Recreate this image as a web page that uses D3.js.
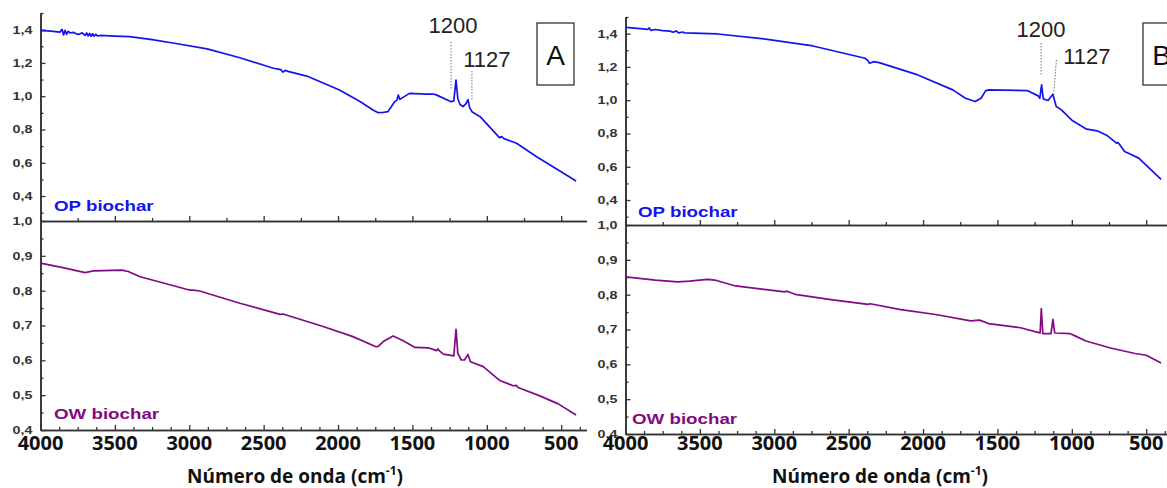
<!DOCTYPE html>
<html>
<head>
<meta charset="utf-8">
<script src="https://cdn.jsdelivr.net/npm/d3@7"></script>
<style>
  body { margin: 0; background: #fff; }
  svg { display: block; }
</style>
</head>
<body>
<div id="chart"></div>
<script>
// FTIR spectra of OP / OW biochar, panels A and B
// points are [wavenumber (cm-1), value]

const opA = [
  [4000,1.394],[3950,1.392],[3900,1.388],[3870,1.385],[3855,1.402],[3845,1.368],[3835,1.396],[3825,1.372],
  [3815,1.390],[3800,1.380],[3780,1.384],[3760,1.375],[3740,1.372],[3720,1.381],[3700,1.365],[3690,1.380],
  [3680,1.362],[3670,1.378],[3660,1.360],[3650,1.375],[3640,1.360],[3630,1.372],[3615,1.362],[3600,1.365],
  [3500,1.361],[3400,1.358],[3250,1.340],[3100,1.318],[2880,1.284],[2660,1.231],[2435,1.168],[2385,1.160],
  [2370,1.145],[2355,1.155],[2330,1.148],[2210,1.121],[1990,1.037],[1850,0.967],[1765,0.917],[1730,0.901],
  [1700,0.902],[1665,0.907],[1620,0.967],[1605,0.975],[1595,1.007],[1585,0.981],[1520,1.017],[1400,1.012],
  [1360,1.013],[1340,1.008],[1240,0.967],[1222,0.972],[1207,1.097],[1195,0.985],[1180,0.950],[1160,0.937],
  [1140,0.955],[1127,0.980],[1115,0.930],[1100,0.907],[1045,0.877],[915,0.751],[900,0.757],[885,0.745],
  [800,0.717],[665,0.636],[520,0.556],[400,0.490]
];

const owA = [
  [4000,0.879],[3850,0.866],[3700,0.852],[3645,0.857],[3454,0.859],[3410,0.855],[3330,0.840],[3000,0.802],
  [2960,0.801],[2930,0.799],[2660,0.764],[2390,0.732],[2370,0.733],[2100,0.697],[1900,0.668],[1745,0.639],
  [1730,0.640],[1696,0.654],[1630,0.670],[1562,0.656],[1483,0.637],[1394,0.636],[1337,0.628],[1330,0.633],
  [1320,0.628],[1293,0.618],[1222,0.613],[1207,0.689],[1195,0.620],[1172,0.601],[1150,0.601],[1127,0.617],
  [1110,0.596],[1024,0.582],[912,0.542],[823,0.527],[800,0.528],[790,0.522],[644,0.498],[520,0.475],[400,0.443]
];

const opB = [
  [4000,1.438],[3900,1.430],[3850,1.426],[3840,1.434],[3830,1.420],[3800,1.425],[3750,1.418],[3700,1.415],
  [3680,1.408],[3660,1.416],[3640,1.404],[3620,1.410],[3600,1.405],[3380,1.398],[3100,1.372],[2740,1.326],
  [2390,1.252],[2370,1.238],[2360,1.222],[2330,1.232],[2295,1.226],[2035,1.152],[1800,1.062],[1715,1.012],
  [1650,0.992],[1610,1.012],[1580,1.056],[1560,1.062],[1300,1.058],[1226,1.026],[1215,1.012],[1203,1.092],
  [1192,1.008],[1160,0.998],[1127,1.036],[1105,0.962],[1070,0.942],[1000,0.880],[900,0.826],[830,0.816],
  [760,0.786],[700,0.742],[690,0.745],[680,0.735],[645,0.692],[550,0.652],[400,0.524]
];

const owB = [
  [4000,0.851],[3800,0.842],[3650,0.837],[3570,0.839],[3450,0.844],[3400,0.842],[3260,0.825],[2930,0.808],
  [2915,0.810],[2860,0.801],[2620,0.786],[2370,0.772],[2355,0.774],[2150,0.757],[1915,0.743],[1680,0.725],
  [1620,0.727],[1560,0.717],[1375,0.707],[1345,0.705],[1222,0.691],[1213,0.690],[1205,0.760],[1195,0.688],
  [1140,0.688],[1127,0.729],[1115,0.690],[1010,0.688],[975,0.681],[905,0.667],[740,0.647],[575,0.631],
  [500,0.626],[400,0.604]
];

const xTicks = [4000, 3500, 3000, 2500, 2000, 1500, 1000, 500];
const upperTicks = [0.4, 0.6, 0.8, 1.0, 1.2, 1.4];
const lowerTicks = [0.4, 0.5, 0.6, 0.7, 0.8, 0.9, 1.0];
const peaks = [1200, 1127];
const peakLabels = ["1200", "1127"];
const seriesNames = ["OP biochar", "OW biochar"];
const panelLetters = ["A", "B"];

const width = 1167, height = 488;
const blue = "#1414ec", purple = "#820a82", axisColor = "#333";
const fmt = d => d.toFixed(1).replace(".", ",");

const svg = d3.select("#chart").append("svg")
  .attr("width", width)
  .attr("height", height);

// panel layout (pixels); B sits a little lower than A
const panels = [
  { letter: panelLetters[0], op: opA, ow: owA, dx: 0, dy: 0,
    opLab: [54, 210.5], owLab: [54, 419],
    ann: { t1: [-4, 33], t2: [19, 67], l1: [-6, 42, -6, 90], l2: [4, 71, 4, 100] },
    box: [537, 23, 37, 62] },
  { letter: panelLetters[1], op: opB, ow: owB, dx: 585, dy: 4,
    opLab: [53, 213], owLab: [47, 420],
    ann: { t1: [-1, 32.5], t2: [34, 59.5], l1: [-1, 39, -1, 72], l2: [3.5, 56, 1, 87.5] },
    box: [558, 19, 37, 62] }
];

const x = d3.scaleLinear().domain([4000, 330]).range([40.5, 586.5]);
const yTop = d3.scaleLinear().domain([0.25, 1.5]).range([221, 13]);
const yBot = d3.scaleLinear().domain([0.4, 1.0]).range([430, 221]);

panels.forEach(drawPanel);

function styleAxis(g) {
  g.select(".domain").attr("stroke", axisColor).attr("stroke-width", 1.6);
  g.selectAll(".tick line").attr("stroke", axisColor).attr("stroke-width", 1.3);
  g.selectAll("text").remove();
}

function drawPanel(p) {
  const g = svg.append("g").attr("transform", `translate(${p.dx},${p.dy})`);

  // y axes: major + minor ticks, pointing inward
  g.append("g").attr("transform", `translate(${x(4000)},0)`)
    .call(d3.axisLeft(yTop).tickValues(d3.range(0.3, 1.51, 0.2)).tickSize(-3).tickSizeOuter(0))
    .call(styleAxis);
  g.append("g").attr("transform", `translate(${x(4000)},0)`)
    .call(d3.axisLeft(yTop).tickValues(upperTicks).tickSize(-5).tickSizeOuter(0))
    .call(styleAxis);
  g.append("g").attr("transform", `translate(${x(4000)},0)`)
    .call(d3.axisLeft(yBot).tickValues(d3.range(0.45, 1.0, 0.1)).tickSize(-3).tickSizeOuter(0))
    .call(styleAxis);
  g.append("g").attr("transform", `translate(${x(4000)},0)`)
    .call(d3.axisLeft(yBot).tickValues(lowerTicks).tickSize(-5).tickSizeOuter(0))
    .call(styleAxis);

  // y tick labels (stretched Origin-style text)
  const yLab = (scale, vals) => vals.forEach(v => {
    g.append("text")
      .attr("transform", `translate(${x(4000) - 8},${scale(v)}) scale(1.3,1)`)
      .attr("dy", "0.36em")
      .attr("text-anchor", "end")
      .style("font-family", "'Liberation Sans', Arial, sans-serif")
      .style("font-weight", "bold")
      .style("font-size", "11px")
      .style("fill", "#333")
      .text(fmt(v));
  });
  yLab(yTop, upperTicks);
  yLab(yBot, lowerTicks);

  // divider axis (bottom of upper panel)
  const minor250 = d3.range(3750, 300, -500);
  const minor125 = d3.range(3875, 300, -125).filter(d => d % 500 !== 0);
  g.append("g").attr("transform", `translate(0,${yTop(0.25)})`)
    .call(d3.axisBottom(x).tickValues(minor250).tickSize(-3).tickSizeOuter(0))
    .call(styleAxis);
  g.append("g").attr("transform", `translate(0,${yTop(0.25)})`)
    .call(d3.axisBottom(x).tickValues(xTicks).tickSize(-5).tickSizeOuter(0))
    .call(styleAxis);

  // bottom axis
  g.append("g").attr("transform", `translate(0,${yBot(0.4)})`)
    .call(d3.axisBottom(x).tickValues(minor125).tickSize(-3).tickSizeOuter(0))
    .call(styleAxis);
  g.append("g").attr("transform", `translate(0,${yBot(0.4)})`)
    .call(d3.axisBottom(x).tickValues(xTicks).tickSize(-5).tickSizeOuter(0))
    .call(styleAxis);

  xTicks.forEach(t => {
    g.append("text")
      .attr("x", x(t))
      .attr("y", 450 - p.dy)
      .attr("text-anchor", "middle")
      .style("font-family", "'Open Sans', sans-serif")
      .style("font-weight", "bold")
      .style("font-size", "20px")
      .style("fill", "#111")
      .text(t);
  });

  const title = g.append("text")
    .attr("x", 295)
    .attr("y", 483 - p.dy)
    .attr("text-anchor", "middle")
    .style("font-family", "'Open Sans', sans-serif")
    .style("font-weight", "bold")
    .style("font-size", "19px")
    .style("fill", "#111");
  title.append("tspan").text("Número de onda (cm");
  title.append("tspan").attr("dy", -8).style("font-size", "12px").text("-1");
  title.append("tspan").attr("dy", 8).text(")");

  // spectra
  const lineTop = d3.line().x(d => x(d[0])).y(d => yTop(d[1]));
  const lineBot = d3.line().x(d => x(d[0])).y(d => yBot(d[1]));
  g.append("path").datum(p.op).attr("d", lineTop)
    .attr("fill", "none").attr("stroke", blue).attr("stroke-width", 1.7).attr("stroke-linejoin", "round");
  g.append("path").datum(p.ow).attr("d", lineBot)
    .attr("fill", "none").attr("stroke", purple).attr("stroke-width", 1.7).attr("stroke-linejoin", "round");

  // series names
  [[seriesNames[0], p.opLab, blue], [seriesNames[1], p.owLab, purple]].forEach(([name, pos, col]) => {
    g.append("text")
      .attr("transform", `translate(${pos[0]},${pos[1]}) scale(1.25,1)`)
      .style("font-family", "'Liberation Sans', Arial, sans-serif")
      .style("font-weight", "bold")
      .style("font-size", "15px")
      .style("fill", col)
      .text(name);
  });

  // peak annotations
  const a = p.ann;
  [a.l1, a.l2].forEach((l, i) => {
    g.append("line")
      .attr("x1", x(peaks[i]) + l[0]).attr("y1", l[1])
      .attr("x2", x(peaks[i]) + l[2]).attr("y2", l[3])
      .attr("stroke", "#777").attr("stroke-width", 1)
      .attr("stroke-dasharray", "1.5,1.5");
  });
  [a.t1, a.t2].forEach((t, i) => {
    g.append("text")
      .attr("x", x(peaks[i]) + t[0])
      .attr("y", t[1])
      .attr("text-anchor", "middle")
      .style("font-family", "'Liberation Sans', Arial, sans-serif")
      .style("font-size", "22px")
      .style("fill", "#222")
      .text(peakLabels[i]);
  });

  // panel letter
  g.append("rect")
    .attr("x", p.box[0]).attr("y", p.box[1])
    .attr("width", p.box[2]).attr("height", p.box[3])
    .attr("fill", "#fff").attr("stroke", "#333").attr("stroke-width", 1.3);
  g.append("text")
    .attr("x", p.box[0] + p.box[2] / 2)
    .attr("y", p.box[1] + 42)
    .attr("text-anchor", "middle")
    .style("font-family", "'Liberation Sans', Arial, sans-serif")
    .style("font-size", "28px")
    .style("fill", "#111")
    .text(p.letter);
}
</script>
</body>
</html>
